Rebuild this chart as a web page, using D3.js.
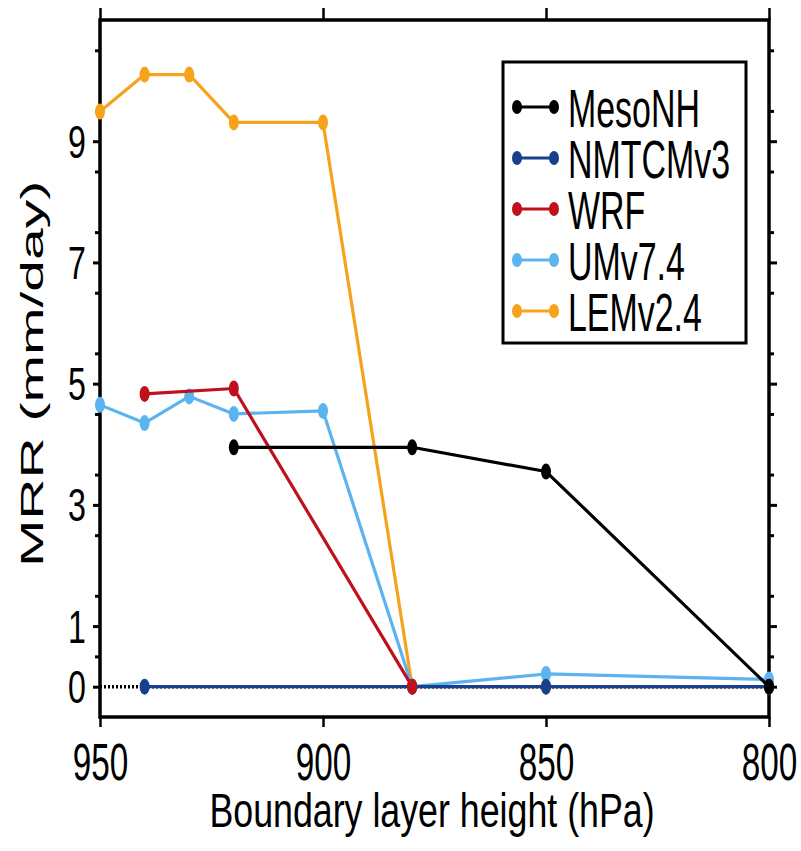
<!DOCTYPE html>
<html>
<head>
<meta charset="utf-8">
<script src="https://cdn.jsdelivr.net/npm/d3@7"></script>
<style>
  html, body { margin: 0; padding: 0; background: #fff; }
  svg { display: block; }
  text { font-family: "Liberation Sans", Arial, Helvetica, sans-serif; fill: #000; }
</style>
</head>
<body>
<svg id="chart" width="801" height="851"></svg>
<script>
// ---------------- data ----------------
const pressure = [950, 940, 930, 920, 900, 880, 850, 800];
const mesoNH  = [null, null, null, 3.95, null, 3.95, 3.55, 0];
const nmtcmv3 = [null, 0, null, null, null, 0, 0, 0];
const wrf     = [null, 4.83, null, 4.92, null, 0, null, null];
const umv74   = [4.65, 4.35, 4.79, 4.5, 4.55, 0, 0.21, 0.12];
const lemv24  = [9.49, 10.1, 10.1, 9.31, 9.31, 0, 0, 0];

const seriesNames  = ["MesoNH", "NMTCMv3", "WRF", "UMv7.4", "LEMv2.4"];
const seriesValues = [mesoNH, nmtcmv3, wrf, umv74, lemv24];
const seriesColors = ["#000000", "#173f8c", "#c0101c", "#5bb4ef", "#f6a31b"];

const xTickValues = [950, 900, 850, 800];
const yTickValues = [0, 1, 3, 5, 7, 9];
const yMinorTicks = [0.5, 1.5, 2.5, 3.5, 4.5, 5.5, 6.5, 7.5, 8.5, 9.5, 10.5];
const xTitle = "Boundary layer height (hPa)";
const yTitle = "MRR (mm/day)";

// ---------------- layout ----------------
const L = 100, R = 769, T = 20, B = 717;
const svg = d3.select("#chart");

const x = d3.scaleLinear().domain([950, 800]).range([L, R]);
const y = d3.scaleLinear().domain([-0.5, 11]).range([B, T]);

// ---------------- axes ----------------
function styleAxis(g, width) {
  g.select(".domain").remove();
  g.selectAll(".tick line").attr("stroke", "#000").attr("stroke-width", width);
}

// bottom
const gB = svg.append("g").attr("transform", `translate(0,${B})`)
  .call(d3.axisBottom(x).tickValues(xTickValues).tickSize(10).tickFormat(d3.format("d")));
styleAxis(gB, 2.5);
gB.selectAll(".tick text")
  .attr("y", 63).attr("dy", 0)
  .style("font-size", "52px")
  .attr("transform", "scale(0.64,1)");

// top
const gT = svg.append("g").attr("transform", `translate(0,${T})`)
  .call(d3.axisTop(x).tickValues(xTickValues).tickSize(12).tickFormat(""));
styleAxis(gT, 2.5);

// left major
const gL = svg.append("g").attr("transform", `translate(${L},0)`)
  .call(d3.axisLeft(y).tickValues(yTickValues).tickSize(7).tickFormat(d3.format("d")));
styleAxis(gL, 3);
gL.selectAll(".tick text")
  .attr("x", -14 / 0.7).attr("dy", "0.35em")
  .style("font-size", "46px")
  .attr("transform", "scale(0.7,1)");
// left minor
const gLm = svg.append("g").attr("transform", `translate(${L},0)`)
  .call(d3.axisLeft(y).tickValues(yMinorTicks).tickSize(5).tickFormat(""));
styleAxis(gLm, 3);

// right major + minor
const gR = svg.append("g").attr("transform", `translate(${R},0)`)
  .call(d3.axisRight(y).tickValues(yTickValues).tickSize(8).tickFormat(""));
styleAxis(gR, 3);
const gRm = svg.append("g").attr("transform", `translate(${R},0)`)
  .call(d3.axisRight(y).tickValues(yMinorTicks).tickSize(5).tickFormat(""));
styleAxis(gRm, 3);

// frame
svg.append("rect")
  .attr("x", L).attr("y", T).attr("width", R - L).attr("height", B - T)
  .attr("fill", "none").attr("stroke", "#000").attr("stroke-width", 3.5);

// ---------------- series ----------------
const line = d3.line()
  .defined(d => d.v !== null)
  .x(d => x(d.p)).y(d => y(d.v));

function seriesData(vals) {
  return pressure.map((p, i) => ({ p, v: vals[i] }));
}

const plot = svg.append("g");

function drawSeries(idx) {
  const data = seriesData(seriesValues[idx]).filter(d => d.v !== null);
  const col = seriesColors[idx];
  plot.append("path")
    .datum(data)
    .attr("d", line)
    .attr("fill", "none")
    .attr("stroke", col)
    .attr("stroke-width", 3.2)
    .attr("stroke-linejoin", "round");
  plot.selectAll(null)
    .data(data)
    .enter().append("ellipse")
    .attr("cx", d => x(d.p)).attr("cy", d => y(d.v))
    .attr("rx", 5).attr("ry", 8)
    .attr("fill", col);
}

// draw order (bottom -> top)
drawSeries(4); // LEMv2.4
// dotted zero reference
plot.append("line")
  .attr("x1", x(950)).attr("x2", x(800))
  .attr("y1", y(0)).attr("y2", y(0))
  .attr("stroke", "#000").attr("stroke-width", 3.5)
  .attr("stroke-dasharray", "2,2");
drawSeries(3); // UMv7.4
drawSeries(1); // NMTCMv3
drawSeries(2); // WRF
drawSeries(0); // MesoNH

// ---------------- legend ----------------
const lg = svg.append("g");
lg.append("rect")
  .attr("x", 503).attr("y", 62).attr("width", 243).attr("height", 281)
  .attr("fill", "#fff").attr("stroke", "#000").attr("stroke-width", 3);

seriesNames.forEach((name, i) => {
  const base = 127 + i * 51;
  const ly = base - 20;
  const col = seriesColors[i];
  lg.append("line")
    .attr("x1", 517).attr("x2", 554).attr("y1", ly).attr("y2", ly)
    .attr("stroke", col).attr("stroke-width", 3.2);
  [517, 554].forEach(cx => {
    lg.append("ellipse").attr("cx", cx).attr("cy", ly)
      .attr("rx", 5).attr("ry", 7).attr("fill", col);
  });
  lg.append("text")
    .attr("transform", `translate(568,${base}) scale(0.64,1)`)
    .style("font-size", "53px")
    .text(name);
});

// ---------------- titles ----------------
svg.append("text")
  .attr("transform", `translate(432,827) scale(0.73,1)`)
  .attr("text-anchor", "middle")
  .style("font-size", "49px")
  .text(xTitle);

svg.append("text")
  .attr("transform", `translate(43,374) scale(0.54,1) rotate(-90)`)
  .attr("text-anchor", "middle")
  .style("font-size", "57px")
  .text(yTitle);
</script>
</body>
</html>
